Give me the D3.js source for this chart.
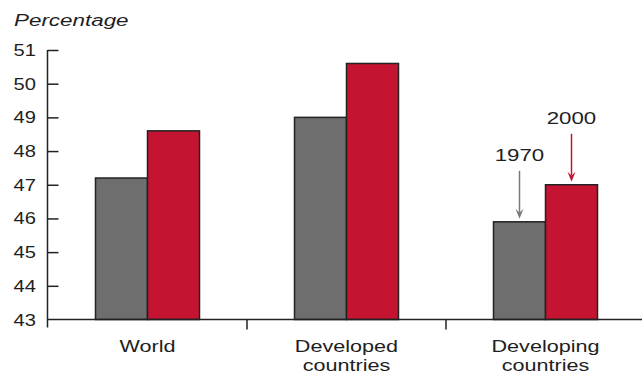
<!DOCTYPE html>
<html>
<head>
<meta charset="utf-8">
<script src="https://cdn.jsdelivr.net/npm/d3@7"></script>
<style>
  body { margin: 0; background: #fff; }
  text { font-family: "Liberation Sans", Arial, sans-serif; fill: #1e1e1e; }
</style>
</head>
<body>
<div class="canvas"></div>
<script>
// data
const categories = [['World'], ['Developed', 'countries'], ['Developing', 'countries']];
const series = ['1970', '2000'];
const values1970 = [47.2, 49.0, 45.9];
const values2000 = [48.6, 50.6, 47.0];
const yTicks = [43, 44, 45, 46, 47, 48, 49, 50, 51];

const colors = {'1970': '#6e6e6e', '2000': '#c41432'};
const arrowColors = {'1970': '#7a7a7a', '2000': '#c41432'};

const width = 642, height = 374;

const svg = d3.select('.canvas')
  .append('svg')
  .attr('width', width)
  .attr('height', height);

const names = categories.map(c => c.join(' '));

const x0 = d3.scaleBand()
  .domain(names)
  .range([48, 645])
  .paddingInner(0);

const groupWidth = 104;
const x1 = d3.scaleBand()
  .domain(series)
  .range([0, groupWidth]);

const y = d3.scaleLinear()
  .domain([43, 51])
  .range([319.5, 50]);

// widen text like the original
function widen(sel, k) {
  sel.each(function() {
    const len = this.getComputedTextLength();
    d3.select(this)
      .attr('textLength', len * k)
      .attr('lengthAdjust', 'spacingAndGlyphs');
  });
}

// y axis
const yAxis = d3.axisRight(y)
  .tickValues(yTicks.slice(1))
  .tickSize(11)
  .tickFormat('');

const yAxisGroup = svg.append('g')
  .attr('transform', 'translate(47.5,0)')
  .call(yAxis);
yAxisGroup.select('.domain').remove();
yAxisGroup.selectAll('line').attr('stroke', '#222').attr('stroke-width', 1.5);
svg.append('line')
  .attr('x1', 47.5).attr('x2', 47.5)
  .attr('y1', y(51)).attr('y2', y(43) + 8)
  .attr('stroke', '#222').attr('stroke-width', 1.5);

svg.selectAll('.ylabel')
  .data(yTicks)
  .enter()
  .append('text')
  .attr('class', 'ylabel')
  .attr('x', 36)
  .attr('y', d => y(d) + 6)
  .attr('text-anchor', 'end')
  .attr('font-size', 16.5)
  .text(d => d)
  .call(widen, 1.22);

svg.append('text')
  .attr('x', 14)
  .attr('y', 26)
  .attr('font-size', 16)
  .attr('font-style', 'italic')
  .text('Percentage')
  .call(widen, 1.4);

// bars
const rows = names.map((n, i) => ({name: n, lines: categories[i], vals: {'1970': values1970[i], '2000': values2000[i]}}));
const pad = (x0.bandwidth() - groupWidth) / 2;

const groups = svg.selectAll('.group')
  .data(rows)
  .enter()
  .append('g')
  .attr('transform', d => `translate(${x0(d.name) + pad},0)`);

groups.selectAll('rect')
  .data(d => series.map(s => ({s, v: d.vals[s]})))
  .enter()
  .append('rect')
  .attr('x', d => x1(d.s))
  .attr('y', d => y(d.v))
  .attr('width', x1.bandwidth())
  .attr('height', d => y(43) - y(d.v))
  .attr('fill', d => colors[d.s])
  .attr('stroke', '#222')
  .attr('stroke-width', 1.5);

// x axis line and separators
svg.append('line')
  .attr('x1', 47.5).attr('x2', width)
  .attr('y1', y(43)).attr('y2', y(43))
  .attr('stroke', '#222').attr('stroke-width', 1.5);

svg.selectAll('.sep')
  .data(names.slice(1))
  .enter()
  .append('line')
  .attr('x1', d => x0(d)).attr('x2', d => x0(d))
  .attr('y1', y(43)).attr('y2', y(43) + 10)
  .attr('stroke', '#222').attr('stroke-width', 1.5);

// category labels
rows.forEach(r => {
  const cx = x0(r.name) + x0.bandwidth() / 2;
  r.lines.forEach((line, j) => {
    svg.append('text')
      .attr('x', cx)
      .attr('y', 352 + j * 19)
      .attr('text-anchor', 'middle')
      .attr('font-size', 17)
      .text(line)
      .call(widen, 1.27);
  });
});

// annotations on the last group
const last = rows[rows.length - 1];
series.forEach(s => {
  const cx = x0(last.name) + pad + x1(s) + x1.bandwidth() / 2;
  const tip = y(last.vals[s]) - 3;
  const start = tip - 48;
  const c = arrowColors[s];
  svg.append('line')
    .attr('x1', cx).attr('x2', cx)
    .attr('y1', start).attr('y2', tip - 6)
    .attr('stroke', c).attr('stroke-width', 1.5);
  svg.append('path')
    .attr('d', `M${cx - 4},${tip - 10} L${cx},${tip - 6} L${cx + 4},${tip - 10} L${cx},${tip} Z`)
    .attr('fill', c);
  svg.append('text')
    .attr('x', cx)
    .attr('y', start - 10)
    .attr('text-anchor', 'middle')
    .attr('font-size', 16.5)
    .text(s)
    .call(widen, 1.35);
});
</script>
</body>
</html>
